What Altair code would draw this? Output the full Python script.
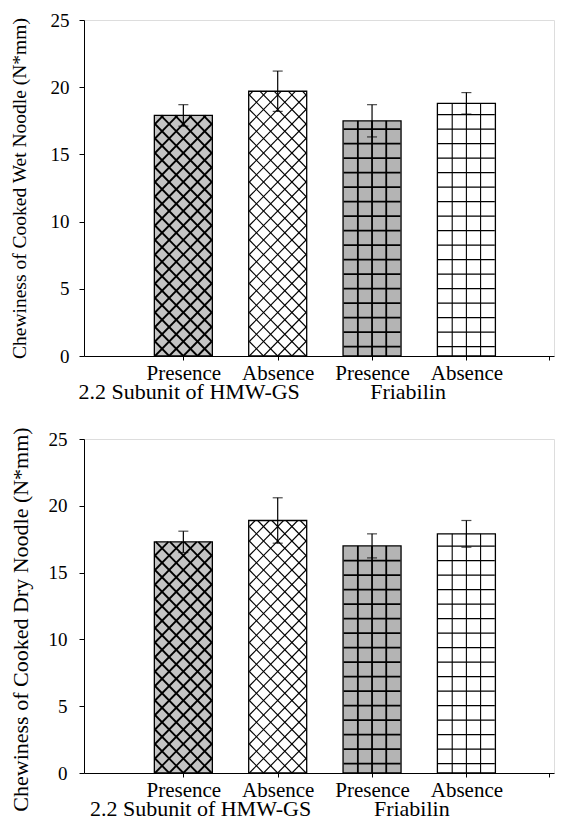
import altair as alt
import pandas as pd

# ---------------- data ----------------
categories = ["Presence", "Absence", "Presence", "Absence"]
positions = [1, 2, 3, 4]
groups = ["2.2 Subunit of HMW-GS", "Friabilin"]
wet_mean = [17.9, 19.7, 17.5, 18.8]
wet_err = [0.8, 1.5, 1.2, 0.8]
dry_mean = [17.3, 18.9, 17.0, 17.9]
dry_err = [0.8, 1.7, 0.9, 1.0]
y_ticks = [0, 5, 10, 15, 20, 25]

# ---------------- style ----------------
fills = ["#c4c4c4", "#ffffff", "#b4b4b4", "#ffffff"]
patterns = ["diag", "diag", "grid", "grid"]
hatch_w = [1.8, 1.1, 1.8, 1.1]
FONT = "Liberation Serif"
KX = 96.4          # pixels per category step
BAR_PX = 58
HATCH_PX = 14.5


def hatch_df(means, kx, ky):
    rows = []
    bw = BAR_PX / kx
    for p, m, kind, w in zip(positions, means, patterns, hatch_w):
        xl, xr = (p - bw / 2) * kx, (p + bw / 2) * kx
        vt = m * ky
        segs = []
        if kind == "grid":
            u = xl + HATCH_PX
            while u < xr - 2:
                segs.append((u, 0, u, vt))
                u += HATCH_PX
            v = HATCH_PX * 0.65
            while v < vt - 2:
                segs.append((xl, v, xr, v))
                v += HATCH_PX
        else:
            c = -(xr - xl)
            while c < vt:
                u0 = max(xl, xl - c)
                u1 = min(xr, xl + vt - c)
                if u1 > u0:
                    segs.append((u0, u0 - xl + c, u1, u1 - xl + c))
                u0 = max(xl, xr + c - vt)
                u1 = min(xr, xr + c)
                if u1 > u0:
                    segs.append((u0, xr - u0 + c, u1, xr - u1 + c))
                c += HATCH_PX
        for a, b, cc, d in segs:
            rows.append({"x": a / kx, "y": b / ky, "x2": cc / kx, "y2": d / ky, "w": w})
    return pd.DataFrame(rows)


label_expr = "{" + ",".join(f"'{p}':'{c}'" for p, c in zip(positions, categories)) + "}[datum.value] || ''"


def panel(means, errs, title, W, H, title_size, title_x, title_y, label_pad, group_x):
    xmax = W / KX
    ky = H / 25
    df = pd.DataFrame({
        "pos": positions, "cat": categories, "mean": means,
        "lo": [m - e for m, e in zip(means, errs)],
        "hi": [m + e for m, e in zip(means, errs)],
        "fill": fills,
    })
    xaxis = alt.Axis(values=positions + [xmax], labelExpr=label_expr, title=None, grid=False,
                     domainColor="black", tickColor="black", tickSize=4, labelFont=FONT,
                     labelFontSize=21, labelColor="black", labelPadding=19,
                     labelBaseline="alphabetic", labelFlush=False, labelOverlap=False)
    yaxis = alt.Axis(values=y_ticks, title=title, grid=False, domainColor="black",
                     tickColor="black", tickSize=5, labelFont=FONT, labelFontSize=19,
                     labelColor="black", labelPadding=label_pad, titleFont=FONT,
                     titleFontSize=title_size, titleFontWeight="normal", titleColor="black",
                     titleX=title_x, titleY=title_y)
    xs = alt.Scale(domain=[0, xmax], nice=False, zero=False)
    ys = alt.Scale(domain=[0, 25], nice=False)

    def X(f):
        return alt.X(f, type="quantitative", scale=xs, axis=xaxis)

    def Y(f):
        return alt.Y(f, type="quantitative", scale=ys, axis=yaxis)

    bars = alt.Chart(df).mark_bar(size=BAR_PX).encode(
        x=X("pos"), y=Y("mean"), fill=alt.Fill("fill:N", scale=None))
    hatch = alt.Chart(hatch_df(means, KX, ky)).mark_rule(color="black").encode(
        x=X("x"), x2="x2", y=Y("y"), y2="y2", strokeWidth=alt.StrokeWidth("w:Q", scale=None))
    outline = alt.Chart(df).mark_bar(size=BAR_PX, fillOpacity=0, stroke="black", strokeWidth=1.3).encode(
        x=X("pos"), y=Y("mean"))
    err = alt.Chart(df).mark_rule(color="black", strokeWidth=1.2).encode(
        x=X("pos"), y=Y("lo"), y2="hi")
    cap_hi = alt.Chart(df).mark_tick(color="black", orient="horizontal", size=10, thickness=1.2).encode(
        x=X("pos"), y=Y("hi"))
    cap_lo = alt.Chart(df).mark_tick(color="black", orient="horizontal", size=10, thickness=1.2).encode(
        x=X("pos"), y=Y("lo"))
    gdf = pd.DataFrame({"g": groups, "gx": group_x})
    glabels = alt.Chart(gdf).mark_text(font=FONT, fontSize=22, baseline="alphabetic", align="left",
                                       color="black").encode(
        x=X("gx"), y=alt.value(H + 43), text="g:N")
    return alt.layer(bars, hatch, outline, err, cap_hi, cap_lo, glabels).properties(width=W, height=H)


# group label start positions (in category units)
top_group_x = [-0.11, 2.98]
bottom_group_x = [0.01, 3.02]

top = panel(wet_mean, wet_err, "Chewiness of Cooked Wet Noodle (N*mm)", 470, 336, 19.5, -55, 168, 10,
            top_group_x)
bottom = panel(dry_mean, dry_err, "Chewiness of Cooked Dry Noodle (N*mm)", 470, 334, 22, -52, 180, 12,
               bottom_group_x)

chart = alt.concat(top, bottom, columns=1, spacing=22, align="none").properties(
    padding={"left": 0, "top": 2, "right": 0, "bottom": 0}
).configure_view(stroke=None).configure(background="white")

chart.save("out.html", embed_options={"renderer": "svg", "actions": False})
